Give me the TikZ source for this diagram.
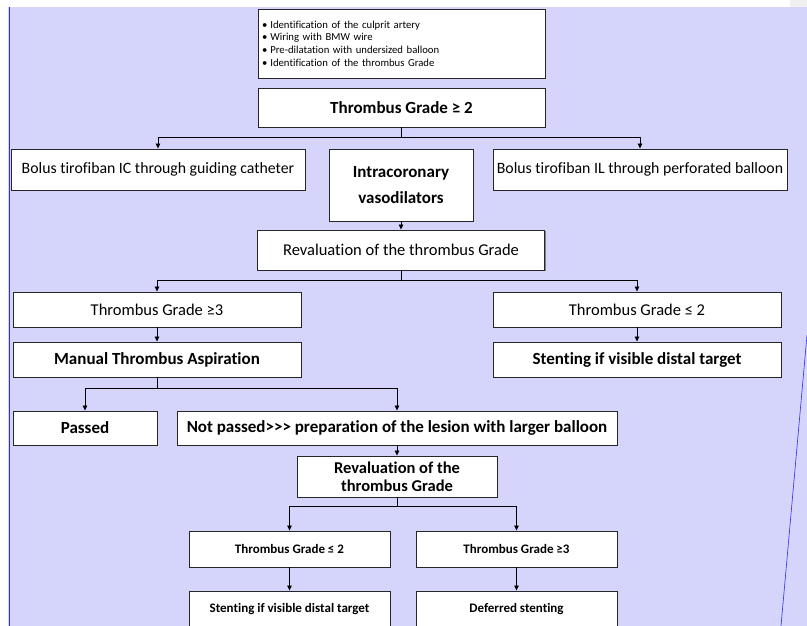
\documentclass[tikz,border=0pt]{standalone}
\usepackage{fontspec}
\setmainfont{Carlito}[Ligatures={TeXOff,NoCommon}]
\usetikzlibrary{arrows.meta,shadows}
\definecolor{lav}{RGB}{213,213,251}
\definecolor{bline}{RGB}{45,45,235}
\definecolor{topgrey}{RGB}{240,240,240}
\tikzset{
  box/.style={draw=black!85, line width=0.9pt, fill=white, inner sep=0pt, align=center,
    drop shadow={shadow xshift=1.3pt, shadow yshift=-1.3pt, fill=black!50, opacity=1}},
  arr/.style={-{Triangle[length=5pt,width=4.5pt]}, line width=0.8pt, draw=black},
  ln/.style={line width=0.8pt, draw=black},
  fbig/.style={font=\fontsize{17}{20}\selectfont\bfseries},
  freg/.style={font=\fontsize{16.5}{19}\selectfont},
  fsmall/.style={font=\fontsize{13}{16}\selectfont\bfseries},
  fbul/.style={font=\fontsize{10.7}{12.7}\selectfont}
}
\begin{document}
\begin{tikzpicture}[x=1pt,y=-1pt]
\useasboundingbox (0,0) rectangle (807,626);
\clip (0,0) rectangle (807,626);
\fill[white] (0,0) rectangle (807,626);
\fill[lav] (8,7) rectangle (807,626);
\fill[topgrey] (790,0) rectangle (807,7);
\draw[bline, line width=1pt] (9.5,7) -- (9.5,626);
\draw[bline, line width=0.6pt] (807,335) -- (781,626);

\node[box, fbul, minimum width=287, minimum height=69, text width=279, align=left] (B1) at (401.5,43.5)
  {\textbullet\hspace{3pt}Identification of the culprit artery\\
   \textbullet\hspace{3pt}Wiring with BMW wire\\
   \textbullet\hspace{3pt}Pre-dilatation with undersized balloon\\
   \textbullet\hspace{3pt}Identification of the thrombus Grade};
\node[box, fbig, minimum width=287, minimum height=39] (B2) at (401.5,107.5) {Thrombus Grade ≥ 2};

\node[box, font=\fontsize{15.8}{19}\selectfont, minimum width=294, minimum height=41] (B3L) at (158,169.5) {Bolus tirofiban IC through guiding catheter};
\node[box, minimum width=144, minimum height=72, font=\fontsize{17}{26}\selectfont\bfseries] (B3M) at (401,185) {Intracoronary\\vasodilators};
\node[box, font=\fontsize{15.8}{19}\selectfont, minimum width=294, minimum height=41] (B3R) at (640,169.5) {Bolus tirofiban IL through perforated balloon};

\node[box, freg, minimum width=287, minimum height=40] (B4) at (401,250) {Revaluation of the thrombus Grade};

\node[box, freg, minimum width=288, minimum height=35] (B5L) at (157,309.5) {Thrombus Grade ≥3};
\node[box, fbig, minimum width=288, minimum height=35] (B6L) at (157,359.5) {Manual Thrombus Aspiration};
\node[box, freg, minimum width=288, minimum height=35] (B5R) at (637,309.5) {Thrombus Grade ≤ 2};
\node[box, fbig, minimum width=288, minimum height=35] (B6R) at (637,359.5) {Stenting if visible distal target};

\node[box, fbig, minimum width=144, minimum height=34] (B7L) at (85,428) {Passed};
\node[box, fbig, minimum width=440, minimum height=34] (B7R) at (397,428) {Not passed>>> preparation of the lesion with larger balloon};

\node[box, minimum width=200, minimum height=41, font=\fontsize{16.5}{18}\selectfont\bfseries] (B8) at (397,476.5) {Revaluation of the\\thrombus Grade};

\node[box, fsmall, minimum width=201, minimum height=36] (B9L) at (289.5,549) {Thrombus Grade ≤ 2};
\node[box, fsmall, minimum width=201, minimum height=36] (B9R) at (516.5,549) {Thrombus Grade ≥3};
\node[box, fsmall, minimum width=201, minimum height=36] (B10L) at (289.5,609) {Stenting if visible distal target};
\node[box, fsmall, minimum width=201, minimum height=36] (B10R) at (516.5,609) {Deferred stenting};

\coordinate (j1) at (401.5,137);
\coordinate (j2) at (401,280);
\coordinate (j3) at (157,388);
\coordinate (j4) at (397,506);

\draw[ln] (B2.south) -- (j1);
\draw[arr] (j1) -| (B3L.north);
\draw[arr] (j1) -| (B3R.north);
\draw[arr] (B3M.south) -- (B4.north);
\draw[ln] (B4.south) -- (j2);
\draw[arr] (j2) -| (B5L.north);
\draw[arr] (j2) -| (B5R.north);
\draw[arr] (B5L.south) -- (B6L.north);
\draw[arr] (B5R.south) -- (B6R.north);
\draw[ln] (B6L.south) -- (j3);
\draw[arr] (j3) -| (B7L.north);
\draw[arr] (j3) -| (B7R.north);
\draw[arr] (B7R.south) -- (B8.north);
\draw[ln] (B8.south) -- (j4);
\draw[arr] (j4) -| (B9L.north);
\draw[arr] (j4) -| (B9R.north);
\draw[arr] (B9L.south) -- (B10L.north);
\draw[arr] (B9R.south) -- (B10R.north);
\end{tikzpicture}
\end{document}
